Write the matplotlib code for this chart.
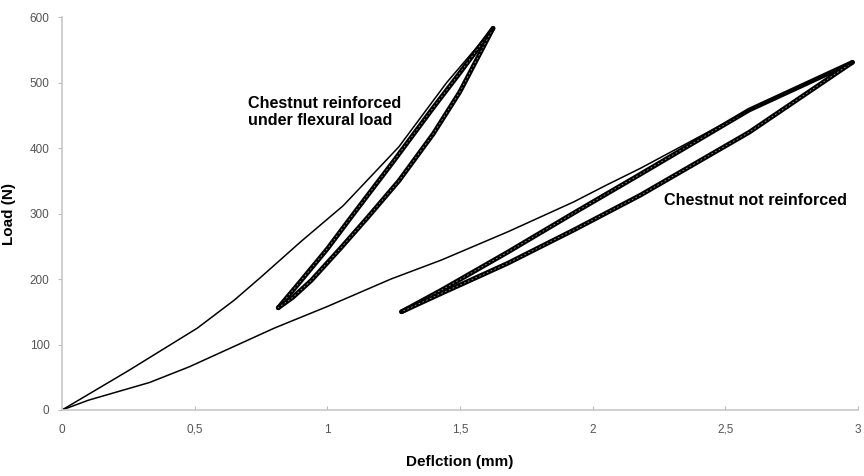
import numpy as np
import matplotlib
matplotlib.use("Agg")
from matplotlib import pyplot as plt

plt.rcParams['font.family'] = ['Liberation Sans', 'DejaVu Sans']

# reinforced specimen: first loading curve and the cyclic loops
reinf_load_x = [0, 0.25, 0.51, 0.65, 0.75, 0.9, 1.06, 1.27, 1.45, 1.625]
reinf_load_y = [0, 60, 125, 168, 203, 257, 312, 402, 500, 583]
reinf_up_x = [0.815, 0.9, 1.0, 1.1, 1.25, 1.4, 1.5, 1.625]
reinf_up_y = [156, 197, 246, 300, 380, 462, 515, 583]
reinf_down_x = [1.625, 1.5, 1.4, 1.27, 1.15, 1.05, 0.94, 0.87, 0.815]
reinf_down_y = [583, 486, 422, 350, 293, 247, 198, 172, 156]

# not reinforced specimen
plain_load_x = [0, 0.1, 0.33, 0.48, 0.8, 1.0, 1.24, 1.43, 1.68, 1.93, 2.05, 2.18, 2.59, 2.98]
plain_load_y = [0, 15, 42, 66, 125, 158, 200, 229, 272, 318, 343, 369, 458, 531]
plain_up_x = [1.28, 1.43, 1.68, 1.93, 2.18, 2.59, 2.98]
plain_up_y = [150, 183, 241, 301, 360, 458, 531]
plain_down_x = [2.98, 2.59, 2.18, 1.93, 1.68, 1.43, 1.28]
plain_down_y = [531, 424, 328, 275, 224, 178, 150]

xticks = [0, 0.5, 1, 1.5, 2, 2.5, 3]
xticklabels = ['0', '0,5', '1', '1,5', '2', '2,5', '3']
yticks = [0, 100, 200, 300, 400, 500, 600]

fig = plt.figure(figsize=(8.64, 4.76), dpi=100)
ax = fig.add_axes([0.0718, 0.1387, 0.921, 0.8253])

for bx, by in [(reinf_up_x, reinf_up_y), (reinf_down_x, reinf_down_y),
               (plain_up_x, plain_up_y), (plain_down_x, plain_down_y)]:
    ax.plot(bx, by, color='black', lw=3.4, solid_capstyle='round', solid_joinstyle='round')
    ax.plot(bx, by, color='#9a9a9a', lw=0.6, ls=(0, (2, 3)))

ax.plot(reinf_load_x, reinf_load_y, color='black', lw=1.1)
ax.plot(plain_load_x, plain_load_y, color='black', lw=1.1)

ax.text(0.70, 480, 'Chestnut reinforced\nunder flexural load', fontsize=11.6,
        fontweight='bold', va='top', ha='left', linespacing=1.15)
ax.text(2.27, 320, 'Chestnut not reinforced', fontsize=11.6,
        fontweight='bold', va='center', ha='left')

ax.set_xlim(0, 3)
ax.set_ylim(0, 600)
ax.set_xticks(xticks)
ax.set_xticklabels(xticklabels)
ax.set_yticks(yticks)
ax.tick_params(colors='#bbbbbb', labelcolor='#555555', labelsize=8.5, length=3, width=0.8)
ax.tick_params(axis='x', direction='in', pad=10)
ax.tick_params(axis='y', pad=6)

for s in ['top', 'right']:
    ax.spines[s].set_visible(False)
for s in ['left', 'bottom']:
    ax.spines[s].set_color('#c8c8c8')
    ax.spines[s].set_linewidth(1.2)

ax.set_xlabel('Deflction (mm)', fontsize=11, fontweight='bold', labelpad=14)
ax.set_ylabel('Load (N)', fontsize=11, fontweight='bold', labelpad=10)

fig.savefig('out.png', dpi=100)
